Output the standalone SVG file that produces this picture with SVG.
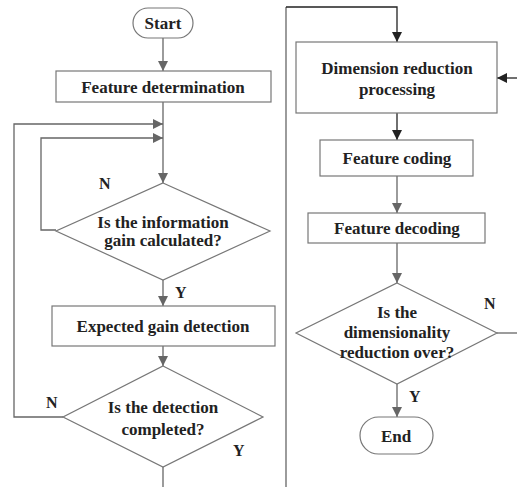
<svg xmlns="http://www.w3.org/2000/svg" width="517" height="487" viewBox="0 0 517 487">
<defs>
<marker id="ag" viewBox="0 0 10 10" refX="10" refY="5" markerWidth="10" markerHeight="10" markerUnits="userSpaceOnUse" orient="auto"><path d="M0,0 L10,5 L0,10 Z" fill="#666"/></marker>
<marker id="ab" viewBox="0 0 10 10" refX="10" refY="5" markerWidth="10" markerHeight="10" markerUnits="userSpaceOnUse" orient="auto"><path d="M0,0 L10,5 L0,10 Z" fill="#222"/></marker>
<style>
.n{fill:#fff;stroke:#777;stroke-width:1.2}
.t{font-family:"Liberation Serif","Times New Roman",serif;font-weight:bold;font-size:17px;fill:#222;text-anchor:middle}
.l{font-family:"Liberation Serif","Times New Roman",serif;font-weight:bold;font-size:16px;fill:#222}
.cg{fill:none;stroke:#666;stroke-width:1.3}
.cb{fill:none;stroke:#222;stroke-width:1.3}
</style>
</defs>
<rect width="517" height="487" fill="#fff"/>
<g id="connectors">
<path class="cg" d="M163,38 V71" marker-end="url(#ag)"/>
<path class="cg" d="M163,102 V183" marker-end="url(#ag)"/>
<path class="cg" d="M56,230 H41 V138 H163" marker-end="url(#ag)"/>
<path class="cg" d="M63,417 H14 V124 H163" marker-end="url(#ag)"/>
<path class="cg" d="M163,280 V306" marker-end="url(#ag)"/>
<path class="cg" d="M163,346 V366" marker-end="url(#ag)"/>
<path class="cg" d="M163,467 V487"/>
<path class="cg" d="M286,487 V7"/>
<path class="cb" d="M286,7 H397 V42" marker-end="url(#ab)"/>
<path class="cb" d="M517,78 H497" marker-end="url(#ab)"/>
<path class="cb" d="M397,113 V140" marker-end="url(#ab)"/>
<path class="cg" d="M397,176 V213" marker-end="url(#ag)"/>
<path class="cg" d="M397,243 V283" marker-end="url(#ag)"/>
<path class="cg" d="M497,333 H517"/>
<path class="cg" d="M397,384 V417" marker-end="url(#ag)"/>
<text class="l" x="99" y="189">N</text>
<text class="l" x="175" y="298">Y</text>
<text class="l" x="46" y="408">N</text>
<text class="l" x="233" y="456">Y</text>
<text class="l" x="484" y="309">N</text>
<text class="l" x="409" y="402">Y</text>
</g>
<g id="start"><rect class="n" x="133" y="8" width="60" height="30" rx="15"/><text class="t" x="163" y="29">Start</text></g>
<g id="feature-determination"><rect class="n" x="56" y="71" width="215" height="31"/><text class="t" x="163" y="93">Feature determination</text></g>
<g id="info-gain"><polygon class="n" points="163,183 270,231 163,280 56,231"/><text class="t" x="163" y="228">Is the information</text><text class="t" x="163" y="246">gain calculated?</text></g>
<g id="expected-gain"><rect class="n" x="52" y="306" width="223" height="40"/><text class="t" x="163" y="332">Expected gain detection</text></g>
<g id="detection-completed"><polygon class="n" points="163,366 263,417 163,467 63,417"/><text class="t" x="163" y="413">Is the detection</text><text class="t" x="163" y="435">completed?</text></g>
<g id="dimension-reduction"><rect class="n" x="296" y="42" width="201" height="71"/><text class="t" x="397" y="74">Dimension reduction</text><text class="t" x="397" y="95">processing</text></g>
<g id="feature-coding"><rect class="n" x="320" y="140" width="153" height="36"/><text class="t" x="397" y="164">Feature coding</text></g>
<g id="feature-decoding"><rect class="n" x="308" y="213" width="177" height="30"/><text class="t" x="397" y="234">Feature decoding</text></g>
<g id="dim-over"><polygon class="n" points="397,283 497,333 397,384 296,333"/><text class="t" x="397" y="318">Is the</text><text class="t" x="397" y="338">dimensionality</text><text class="t" x="397" y="358">reduction over?</text></g>
<g id="end"><rect class="n" x="360" y="417" width="73" height="37" rx="18.5"/><text class="t" x="396" y="442">End</text></g>
</svg>
